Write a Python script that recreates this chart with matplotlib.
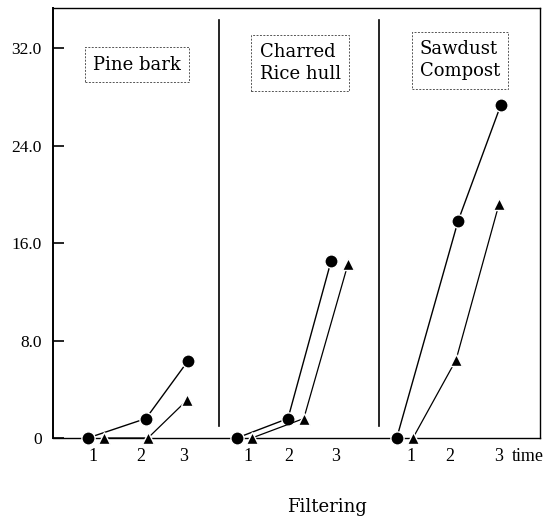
import matplotlib
matplotlib.use("Agg")
import matplotlib.pyplot as plt

plt.rcParams['font.family'] = ['Liberation Serif', 'DejaVu Serif']

# Data
panels = ["Pine bark", "Charred\nRice hull", "Sawdust\nCompost"]
circle_x = [[0.86, 2.29, 3.32], [4.53, 5.79, 6.85], [8.47, 9.98, 11.03]]
circle_y = [[0.0, 1.6, 6.3], [0.0, 1.6, 14.5], [0.0, 17.8, 27.3]]
tri_x = [[1.26, 2.34, 3.30], [4.90, 6.18, 7.27], [8.87, 9.93, 10.99]]
tri_y = [[0.0, 0.0, 3.1], [0.0, 1.6, 14.3], [0.0, 6.4, 19.2]]
xtick_pos = [0.99, 2.17, 3.23, 4.80, 5.81, 6.97, 8.82, 9.78, 10.99]
xtick_labels = ["1", "2", "3", "1", "2", "3", "1", "2", "3"]
ytick_vals = [0, 8, 16, 24, 32]
ytick_labels = ["0", "8.0", "16.0", "24.0", "32.0"]
dividers = [4.09, 8.03]

fig = plt.figure(figsize=(5.54, 5.18), dpi=100)
ax = fig.add_axes([53/554, 1-438/518, (540-53)/554, (438-8)/518])
ax.set_xlim(0, 12)
ax.set_ylim(0, 35.3)

for cx, cy, tx, ty in zip(circle_x, circle_y, tri_x, tri_y):
    ax.plot(cx, cy, '-', color='black', lw=1.0, marker='o', ms=9.5,
            markeredgecolor='white', markeredgewidth=1.0, clip_on=False, zorder=4)
    ax.plot(tx, ty, '-', color='black', lw=0.9, marker='^', ms=8.5,
            markeredgecolor='white', markeredgewidth=1.0, clip_on=False, zorder=4)

for d in dividers:
    ax.plot([d, d], [1.0, 34.3], color='black', lw=1.2)

for spine in ['left', 'bottom', 'right', 'top']:
    ax.spines[spine].set_linewidth(1.0)
ax.spines['left'].set_linewidth(1.4)

ax.set_yticks(ytick_vals)
ax.set_yticklabels(ytick_labels, fontsize=12.5)
ax.tick_params(axis='y', direction='in', length=8, width=1.2, pad=8)
ax.set_xticks(xtick_pos)
ax.set_xticklabels(xtick_labels, fontsize=13)
ax.tick_params(axis='x', length=0, pad=7)
ax.annotate("time", xy=(11.3, 0), xycoords=('data', 'axes fraction'),
            xytext=(0, -7), textcoords='offset points',
            fontsize=13, ha='left', va='top', annotation_clip=False)
ax.text((327-53)/487, -0.16, "Filtering", fontsize=13, ha='center', va='center',
        transform=ax.transAxes, family='DejaVu Serif')

box_kw = dict(boxstyle='square,pad=0.45', facecolor='white', edgecolor='#555555',
              linestyle=(0, (2, 1.5)), linewidth=0.7)
label_xy = [(2.06, 30.66), (6.09, 30.8), (10.03, 31.0)]
for (lx, ly), name in zip(label_xy, panels):
    ax.text(lx, ly, name, fontsize=13, ha='center', va='center',
            multialignment='left', linespacing=1.3, bbox=box_kw,
            family='DejaVu Serif')

fig.savefig("out.png", dpi=100)
